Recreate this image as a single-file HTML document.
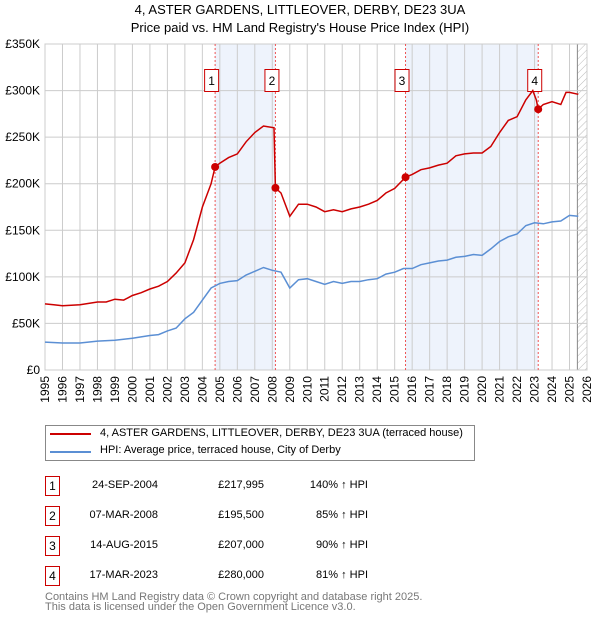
<!DOCTYPE html>
<html><head><meta charset="utf-8"><style>
body{margin:0;background:#fff;font-family:"Liberation Sans","DejaVu Sans",sans-serif;}
#wrap{position:relative;width:600px;height:620px;overflow:hidden}
.t{position:absolute;font-size:12px;color:#000;white-space:nowrap}
.box{position:absolute;border:1px solid #c00;width:13px;height:18px;text-align:center;font-size:12px;line-height:18px}
</style></head><body><div id="wrap">
<div class="t" style="left:0;width:600px;text-align:center;top:2px;font-size:13px">4, ASTER GARDENS, LITTLEOVER, DERBY, DE23 3UA</div>
<div class="t" style="left:0;width:600px;text-align:center;top:20px;font-size:13px">Price paid vs. HM Land Registry's House Price Index (HPI)</div>
<svg id="c" width="600" height="420" style="position:absolute;left:0;top:0"></svg>
<div style="position:absolute;left:45px;top:425px;width:428px;height:34px;border:1px solid #888"></div>
<div style="position:absolute;left:50px;top:433px;width:41px;height:2px;background:#c00"></div>
<div class="t" style="left:100px;top:427px;font-size:11px">4, ASTER GARDENS, LITTLEOVER, DERBY, DE23 3UA (terraced house)</div>
<div style="position:absolute;left:50px;top:451px;width:41px;height:2px;background:#5b8fd4"></div>
<div class="t" style="left:100px;top:444px;font-size:11px">HPI: Average price, terraced house, City of Derby</div>
<div id="tbl"></div>
<div class="t" style="left:45px;top:592px;font-size:11px;color:#777;line-height:10px">Contains HM Land Registry data © Crown copyright and database right 2025.<br>This data is licensed under the Open Government Licence v3.0.</div>
</div>
<script>
const yearTicks=[1995,1996,1997,1998,1999,2000,2001,2002,2003,2004,2005,2006,2007,2008,2009,2010,2011,2012,2013,2014,2015,2016,2017,2018,2019,2020,2021,2022,2023,2024,2025,2026];
const valueTicks=[0,50,100,150,200,250,300,350];
const valueLabels=["£0","£50K","£100K","£150K","£200K","£250K","£300K","£350K"];
const redX=[1995,1995.5,1996,1997,1998,1998.5,1999,1999.5,2000,2000.5,2001,2001.5,2002,2002.5,2003,2003.5,2004,2004.5,2004.73,2005,2005.5,2006,2006.5,2007,2007.5,2008.1,2008.18,2008.5,2009,2009.5,2010,2010.5,2011,2011.5,2012,2012.5,2013,2013.5,2014,2014.5,2015,2015.62,2016,2016.5,2017,2017.5,2018,2018.5,2019,2019.5,2020,2020.5,2021,2021.5,2022,2022.5,2022.9,2023.1,2023.21,2023.5,2024,2024.5,2024.8,2025,2025.5];
const redY=[71,70,69,70,73,73,76,75,80,83,87,90,95,104,115,140,175,200,218,222,228,232,245,255,262,260,195.5,190,165,178,178,175,170,172,170,173,175,178,182,190,195,207,210,215,217,220,222,230,232,233,233,240,255,268,272,290,300,290,280,285,288,285,298,298,296];
const blueX=[1995,1996,1997,1998,1999,2000,2001,2001.5,2002,2002.5,2003,2003.5,2004,2004.5,2005,2005.5,2006,2006.5,2007,2007.5,2008,2008.5,2009,2009.5,2010,2010.5,2011,2011.5,2012,2012.5,2013,2013.5,2014,2014.5,2015,2015.5,2016,2016.5,2017,2017.5,2018,2018.5,2019,2019.5,2020,2020.5,2021,2021.5,2022,2022.5,2023,2023.5,2024,2024.5,2025,2025.5];
const blueY=[30,29,29,31,32,34,37,38,42,45,55,62,75,88,93,95,96,102,106,110,107,105,88,97,98,95,92,95,93,95,95,97,98,103,105,109,109,113,115,117,118,121,122,124,123,130,138,143,146,155,158,157,159,160,166,165];
const saleLabels=["1","2","3","4"];
const saleX=[2004.73,2008.18,2015.62,2023.21];
const saleY=[217.995,195.5,207,280];
const saleDates=["24-SEP-2004","07-MAR-2008","14-AUG-2015","17-MAR-2023"];
const salePrices=["£217,995","£195,500","£207,000","£280,000"];
const salePct=["140% ↑ HPI","85% ↑ HPI","90% ↑ HPI","81% ↑ HPI"];

const X0=45,X1=587,Y0=370,Y1=44;
const sx=y=>X0+(y-1995)/(2026-1995)*(X1-X0);
const sy=v=>Y0-v/350*(Y0-Y1);
const svg=document.getElementById('c');const NS="http://www.w3.org/2000/svg";
function mk(tag,attrs,name){const e=document.createElementNS(NS,tag);for(const k in attrs)e.setAttribute(k,attrs[k]);


svg.appendChild(e);return e;}
mk('rect',{x:sx(saleX[0]),y:Y1,width:sx(saleX[1])-sx(saleX[0]),height:Y0-Y1,fill:'#eef3fc'},'shade-1-2');
mk('rect',{x:sx(saleX[2]),y:Y1,width:sx(saleX[3])-sx(saleX[2]),height:Y0-Y1,fill:'#eef3fc'},'shade-3-4');
const defs=document.createElementNS(NS,'defs');defs.innerHTML='<pattern id="h" width="5" height="5" patternUnits="userSpaceOnUse" patternTransform="rotate(45)"><line x1="0" y1="0" x2="0" y2="5" stroke="#bbb" stroke-width="1"/></pattern>';svg.appendChild(defs);
mk('rect',{x:sx(2025.45),y:Y1,width:X1-sx(2025.45),height:Y0-Y1,fill:'url(#h)'},'future-hatch');
mk('line',{x1:sx(2025.45),y1:Y1,x2:sx(2025.45),y2:Y0,stroke:'#888'},'future-line');
yearTicks.forEach((y,i)=>{mk('line',{x1:sx(y),y1:Y1,x2:sx(y),y2:Y0,stroke:'#ccc'},'grid-x');
const t=mk('text',{x:sx(y)+4,y:Y0+6,transform:`rotate(-90 ${sx(y)+4} ${Y0+6})`,'text-anchor':'end','font-size':'12',fill:'#000'},'x-tick-label');t.textContent=y;});
valueTicks.forEach((v,i)=>{mk('line',{x1:X0,y1:sy(v),x2:X1,y2:sy(v),stroke:'#ccc'},'grid-y');
const t=mk('text',{x:X0-5,y:sy(v)+4,'text-anchor':'end','font-size':'12',fill:'#000'},'y-tick-label');t.textContent=valueLabels[i];});
mk('rect',{x:X0,y:Y1,width:X1-X0,height:Y0-Y1,fill:'none',stroke:'#ccc'},'plot-frame');
saleX.forEach((x,i)=>{mk('line',{x1:sx(x),y1:Y1,x2:sx(x),y2:Y0,stroke:'#e55','stroke-dasharray':'2,2'},'sale-marker-line');
mk('rect',{x:sx(x)-10.5,y:69.5,width:14,height:22,fill:'#fff',stroke:'#c00'},'sale-marker-box');
const t=mk('text',{x:sx(x)-3.5,y:85,'text-anchor':'middle','font-size':'12'},'sale-marker-label');t.textContent=saleLabels[i];});
const path=(xs,ys)=>xs.map((x,i)=>(i?'L':'M')+sx(x).toFixed(1)+','+sy(ys[i]).toFixed(1)).join('');
mk('path',{d:path(blueX,blueY),fill:'none',stroke:'#5b8fd4','stroke-width':1.5},'hpi-line');
mk('path',{d:path(redX,redY),fill:'none',stroke:'#c00','stroke-width':1.5},'property-line');
saleX.forEach((x,i)=>mk('circle',{cx:sx(x),cy:sy(saleY[i]),r:4,fill:'#c00'},'sale-point'));
const tbl=document.getElementById('tbl');
saleLabels.forEach((l,i)=>{const top=476+i*30;
const add=(html,style,name,cls)=>{const d=document.createElement('div');d.className=cls||'t';d.style.cssText=style;d.textContent=html;


tbl.appendChild(d);};
add(l,`left:45px;top:${top}px`,'sale-number','box');
add(saleDates[i],`left:58px;width:100px;text-align:right;top:${top+3}px;font-size:11px`,'sale-date');
add(salePrices[i],`left:180px;width:84px;text-align:right;top:${top+3}px;font-size:11px`,'sale-price');
add(salePct[i],`left:280px;width:88px;text-align:right;top:${top+3}px;font-size:11px`,'sale-hpi-pct');});
</script></body></html>
